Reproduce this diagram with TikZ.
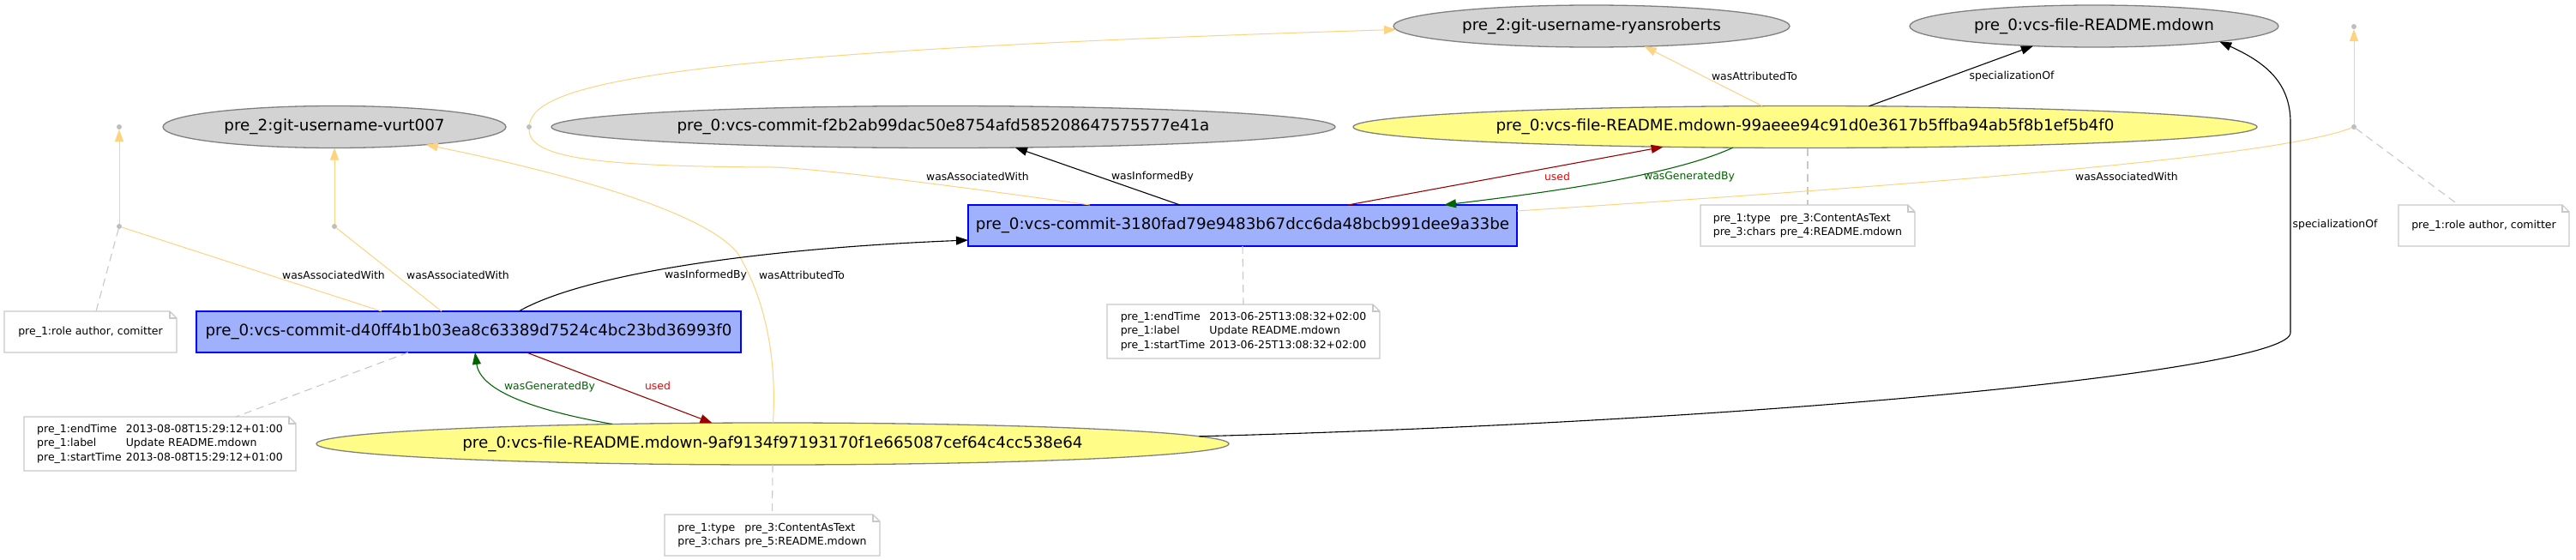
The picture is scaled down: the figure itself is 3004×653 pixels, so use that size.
\documentclass[tikz,border=0pt]{standalone}
\usepackage{fontspec}
\setmainfont{DejaVu Sans}
\usetikzlibrary{shapes.geometric,arrows.meta,calc}
\definecolor{grayfill}{HTML}{D3D3D3}
\definecolor{ellborder}{HTML}{808080}
\definecolor{entfill}{HTML}{FFFC87}
\definecolor{actfill}{HTML}{9FB1FC}
\definecolor{actborder}{HTML}{0000FF}
\definecolor{agentyel}{HTML}{FED37F}
\definecolor{usedcol}{HTML}{9B0000}
\definecolor{usedlab}{HTML}{FF0000}
\definecolor{gencol}{HTML}{006400}
\definecolor{dotgray}{HTML}{BEBEBE}
\definecolor{notegray}{HTML}{C8C8C8}
\newcommand{\provnodefont}{\fontsize{18.3}{22}\selectfont}
\newcommand{\provlabfont}{\fontsize{12.4}{15}\selectfont}
\newcommand{\provnotefont}{\fontsize{12.5}{16.5}\selectfont}
\newcommand{\foldnote}[1]{%
  \draw[notebord] (#1.north west) -- ($(#1.north east)+(-8,0)$) -- ($(#1.north east)+(0,8)$) -- (#1.south east) -- (#1.south west) -- cycle;
  \draw[notebord] ($(#1.north east)+(-8,0)$) -- ($(#1.north east)+(-8,8)$) -- ($(#1.north east)+(0,8)$);}
\tikzset{
  ell/.style={ellipse, draw=ellborder, line width=1.3pt, inner sep=0pt, outer sep=0pt, font=\provnodefont, minimum height=49pt},
  agentnode/.style={ell, fill=grayfill},
  entnode/.style={ell, fill=entfill},
  actnode/.style={rectangle, draw=actborder, fill=actfill, line width=1.3pt, inner sep=0pt, outer sep=0pt, font=\provnodefont, minimum height=48pt},
  dotnode/.style={circle, fill=dotgray, inner sep=0pt, outer sep=0pt, minimum size=6pt},
  notenode/.style={inner sep=0pt, outer sep=0pt, font=\provnotefont, align=left},
  notebord/.style={draw=notegray, line width=1.1pt},
  edgelab/.style={font=\provlabfont, inner sep=0pt},
  tip/.style={-{Triangle[length=14pt,width=10pt]}},
  yel/.style={draw=agentyel, line width=1pt},
  yelarrow/.style={yel, tip},
  blkarrow/.style={draw=black, line width=1.1pt, tip},
  usedarrow/.style={draw=usedcol, line width=1.1pt, tip},
  genarrow/.style={draw=gencol, line width=1.1pt, tip},
  notedash/.style={draw=notegray, line width=1.1pt, dash pattern=on 9pt off 6pt},
}
\begin{document}
\begin{tikzpicture}[x=1pt,y=-1pt]
\fill[white] (0,0) rectangle (3004,653);
\useasboundingbox (0,0) rectangle (3004,653);

% main nodes
\node[agentnode, minimum width=400pt] (vurt) at (390,148) {pre\_2:git-username-vurt007};
\node[agentnode, minimum width=914pt] (f2b2) at (1100,148) {pre\_0:vcs-commit-f2b2ab99dac50e8754afd585208647575577e41a};
\node[agentnode, minimum width=462pt] (ryan) at (1856,30.5) {pre\_2:git-username-ryansroberts};
\node[agentnode, minimum width=430pt] (readme) at (2442,30.5) {pre\_0:vcs-file-README.mdown};
\node[entnode, minimum width=1054pt] (e99) at (2105,148) {pre\_0:vcs-file-README.mdown-99aeee94c91d0e3617b5ffba94ab5f8b1ef5b4f0};
\node[entnode, minimum width=1064pt] (e9a) at (901,517.5) {pre\_0:vcs-file-README.mdown-9af9134f97193170f1e665087cef64c4cc538e64};
\node[actnode, minimum width=635pt] (cd40) at (546.5,387) {pre\_0:vcs-commit-d40ff4b1b03ea8c63389d7524c4bc23bd36993f0};
\node[actnode, minimum width=640pt] (c318) at (1449,263) {pre\_0:vcs-commit-3180fad79e9483b67dcc6da48bcb991dee9a33be};

% dots
\node[dotnode] (dA) at (139,148) {};
\node[dotnode] (dB) at (139,264) {};
\node[dotnode] (dC) at (390,264) {};
\node[dotnode] (dD) at (617,148) {};
\node[dotnode] (dE) at (2745,148) {};
\node[dotnode] (dF) at (2745,31) {};

% notes
\node[notenode, minimum width=201pt, minimum height=48pt] (n1) at (105.5,387) {pre\_1:role author, comitter};
\node[notenode, minimum width=317pt, minimum height=63pt] (n2) at (186.5,517.5) {\begin{tabular}{@{}l@{\hspace{5pt}}l@{}}pre\_1:endTime & 2013-08-08T15:29:12+01:00\\ pre\_1:label & Update README.mdown\\ pre\_1:startTime & 2013-08-08T15:29:12+01:00\end{tabular}};
\node[notenode, minimum width=318pt, minimum height=63pt] (n3) at (1450,386.5) {\begin{tabular}{@{}l@{\hspace{5pt}}l@{}}pre\_1:endTime & 2013-06-25T13:08:32+02:00\\ pre\_1:label & Update README.mdown\\ pre\_1:startTime & 2013-06-25T13:08:32+02:00\end{tabular}};
\node[notenode, minimum width=250pt, minimum height=48pt] (n4) at (2108,263) {\begin{tabular}{@{}l@{\hspace{5pt}}l@{}}pre\_1:type & pre\_3:ContentAsText\\ pre\_3:chars & pre\_4:README.mdown\end{tabular}};
\node[notenode, minimum width=251pt, minimum height=48pt] (n5) at (900.5,624) {\begin{tabular}{@{}l@{\hspace{5pt}}l@{}}pre\_1:type & pre\_3:ContentAsText\\ pre\_3:chars & pre\_5:README.mdown\end{tabular}};
\node[notenode, minimum width=199pt, minimum height=48pt] (n6) at (2896.5,263) {pre\_1:role author, comitter};
\foldnote{n1}\foldnote{n2}\foldnote{n3}\foldnote{n4}\foldnote{n5}\foldnote{n6}

% dashed note links
\draw[notedash] (dB) -- ($(n1.north)+(6.5,0)$);
\draw[notedash] ($(cd40.south)+(-70.5,0)$) -- ($(n2.north)+(88.5,0)$);
\draw[notedash] (c318.south) -- (n3.north);
\draw[notedash] (n4.north |- e99.south) -- (n4.north);
\draw[notedash] (e9a.south) -- (n5.north);
\draw[notedash] (dE) -- ($(n6.north)+(-29.5,0)$);

% agent (yellow) edges
\draw[yelarrow] (dB) -- (dA);
\draw[yelarrow] (dC) -- (vurt.south);
\draw[yel] ($(cd40.north)+(-101.5,0)$) -- (dB);
\draw[yel] ($(cd40.north)+(-31.5,0)$) -- (dC);
\draw[yel] ($(c318.north)+(-178,0)$) .. controls (1100,215) and (950,196) .. (900,195) .. controls (700,194) and (617,185) .. (dD);
\draw[yelarrow] (dD) .. controls (625,95) and (800,60) .. (ryan.181.4);
\draw[yelarrow] (e9a.89.5) .. controls (905,440) and (900,360) .. (860,295) .. controls (820,245) and (650,200) .. (vurt.-11.7);
\draw[yelarrow] (e99.154.4) -- (ryan.-21.5);
\draw[yel] ($(c318.east)+(0,-17)$) .. controls (2200,218) and (2650,185) .. (dE);
\draw[yelarrow] (dE) -- (dF);

% black edges
\draw[blkarrow] ($(cd40.north)+(58.5,0)$) .. controls (680,320) and (880,290) .. ($(c318.west)+(0,17)$);
\draw[blkarrow] ($(c318.north)+(-73,0)$) -- (f2b2.-16.8);
\draw[blkarrow] (e99.18.15) -- (readme.-162.2);
\coordinate (bendlo) at (2671,388);
\coordinate (bendhi) at (2671,143);
\draw[blkarrow] (e9a.1.5) .. controls (2100,490) and (2671,430) .. (bendlo) -- (bendhi) .. controls (2671,95) and (2640,72) .. (readme.-7.8);

% used / generated
\draw[usedarrow] ($(c318.north)+(123,0)$) -- (e99.188.8);
\draw[usedarrow] ($(cd40.south)+(67.5,0)$) -- (e9a.161.4);
\draw[genarrow] (e99.-164.1) .. controls (1950,205) and (1800,225) .. ($(c318.north)+(235,0)$);
\draw[genarrow] (e9a.173.8) .. controls (620,478) and (560,455) .. ($(cd40.south)+(7.5,0)$);

% labels
\node[edgelab] (l1) at (389,321) {wasAssociatedWith};
\node[edgelab] (l2) at (534,321) {wasAssociatedWith};
\node[edgelab] (l3) at (823,321) {wasInformedBy};
\node[edgelab] (l4) at (935,321) {wasAttributedTo};
\node[edgelab] (l5) at (1140,206) {wasAssociatedWith};
\node[edgelab] (l6) at (1344,206) {wasInformedBy};
\node[edgelab, text=usedlab] (l7) at (1816,206) {used};
\node[edgelab, text=gencol] (l8) at (1970,206) {wasGeneratedBy};
\node[edgelab] (l9) at (2046,89) {wasAttributedTo};
\node[edgelab] (l10) at (2346,89) {specializationOf};
\node[edgelab] (l11) at (2480,206) {wasAssociatedWith};
\node[edgelab] (l12) at (2723,262) {specializationOf};
\node[edgelab, text=usedlab] (l13) at (767,450) {used};
\node[edgelab, text=gencol] (l14) at (641,451) {wasGeneratedBy};
\end{tikzpicture}
\end{document}
